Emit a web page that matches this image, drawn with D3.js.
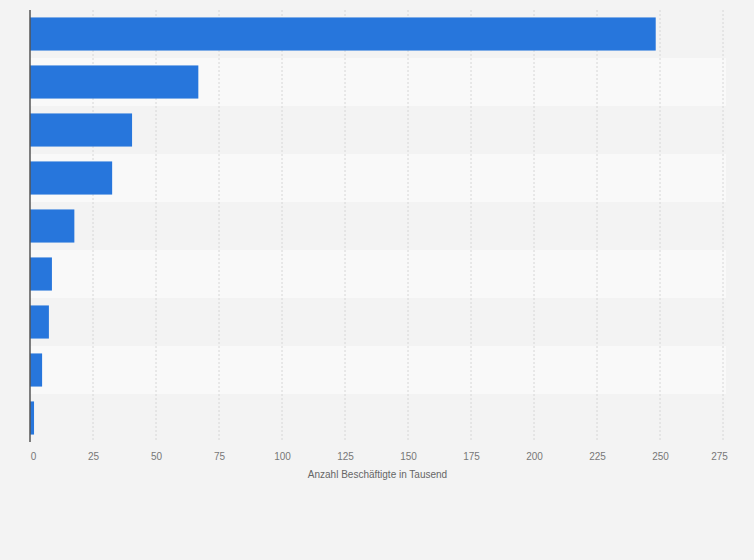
<!DOCTYPE html>
<html><head><meta charset="utf-8">
<script src="https://cdn.jsdelivr.net/npm/d3@7"></script>
<style>body{margin:0;background:#f3f3f3;font-family:"Liberation Sans",Arial,sans-serif}</style>
</head><body><div id="chart"></div>
<script>
var categories = ["A","B","C","D","E","F","G","H","I"];
var values = [248.3, 66.8, 40.5, 32.6, 17.6, 8.7, 7.5, 4.8, 1.6];
var ticks = [0,25,50,75,100,125,150,175,200,225,250,275];
var xLabel = "Anzahl Beschäftigte in Tausend";

var margin = {top: 10, right: 28, bottom: 118, left: 30},
width = 754 - margin.left - margin.right,
height = 560 - margin.top - margin.bottom;

var svg = d3.select('#chart').append('svg')
  .attr('width', 754).attr('height', 560)
  .append('g')
  .attr('transform','translate('+margin.left+','+margin.top+')');

var x = d3.scaleLinear().domain([0,275]).range([0,693]);
var y = d3.scaleBand().domain(categories).range([0,height]).paddingInner(0.31).paddingOuter(0.155);
var step = y.step();

// bands
svg.selectAll("band").data(categories).enter().append("rect")
  .attr("x",0).attr("width",width)
  .attr("y",function(d){ return y(d) - y.step()*0.155; })
  .attr("height",step)
  .attr("fill",function(d,i){ return i%2 ? "#f9f9f9" : "#f3f3f3"; });

// grid
svg.selectAll("grid").data(ticks.slice(1)).enter().append("line")
  .attr("x1",function(d){return x(d);}).attr("x2",function(d){return x(d);})
  .attr("y1",0).attr("y2",height)
  .attr("stroke","#d6d6d6").attr("stroke-dasharray","2,2");

svg.selectAll("mybar").data(values).enter().append("rect")
  .attr("x",0)
  .attr("y",function(d,i){ return y(categories[i]); })
  .attr("width",function(d){ return x(d); })
  .attr("height",y.bandwidth())
  .attr("fill","#2776dc");

svg.append("line").attr("x1",0).attr("x2",0).attr("y1",0).attr("y2",height)
  .attr("stroke","#555").attr("stroke-width",1.5);

var ax = svg.append("g").attr("transform","translate(0,"+height+")")
  .call(d3.axisBottom(x).tickValues(ticks).tickSize(0).tickPadding(11));
ax.select(".domain").remove();
ax.selectAll("text").attr("fill","#777").style("font-size","10px")
  .attr("dx",function(d){ return d===0 ? "3px" : (d===275 ? "-4px" : 0); });

svg.append("text").attr("x",x(275)/2+1).attr("y",height+36)
  .style("text-anchor","middle").style("font-size","10px").attr("fill","#666")
  .text(xLabel);
</script></body></html>
